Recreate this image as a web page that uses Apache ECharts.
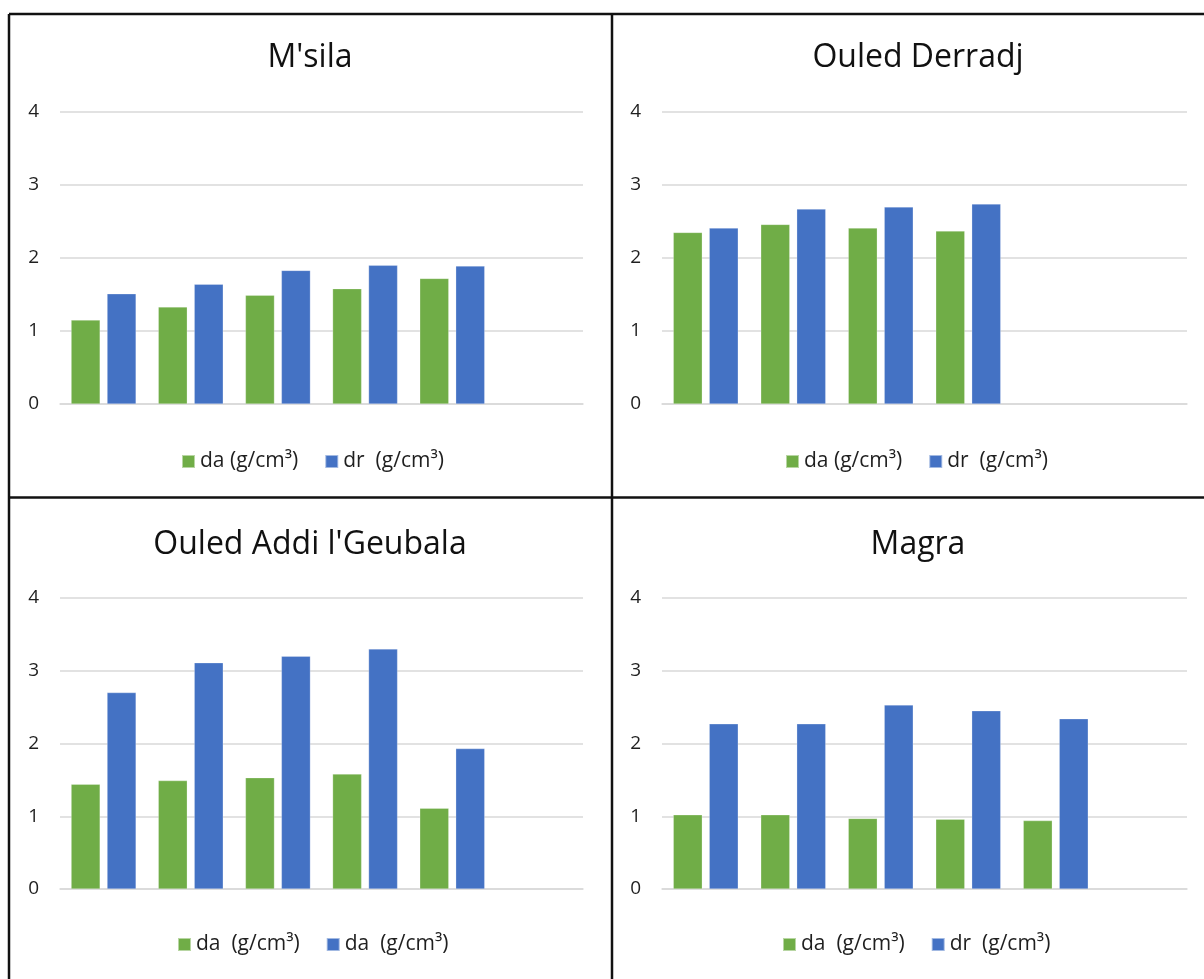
<!DOCTYPE html>
<html>
<head>
<meta charset="utf-8">
<script src="https://cdn.jsdelivr.net/npm/echarts@6/dist/echarts.min.js"></script>
<style>
html,body{margin:0;padding:0;background:#fff;}
#chart{width:1204px;height:979px;}
</style>
</head>
<body>
<div id="chart"></div>
<script>
// ---- data ----
const categories = ['1', '2', '3', '4', '5', '6'];
const panelTitles = ["M'sila", 'Ouled Derradj', "Ouled Addi l'Geubala", 'Magra'];
const yTicks = [0, 1, 2, 3, 4];

const msilaDa = [1.15, 1.33, 1.49, 1.58, 1.72, null];
const msilaDr = [1.51, 1.64, 1.83, 1.90, 1.89, null];
const derradjDa = [2.35, 2.46, 2.41, 2.37, null, null];
const derradjDr = [2.41, 2.67, 2.70, 2.74, null, null];
const addiDa = [1.44, 1.49, 1.53, 1.58, 1.11, null];
const addiDr = [2.70, 3.11, 3.20, 3.30, 1.93, null];
const magraDa = [1.02, 1.02, 0.97, 0.96, 0.94, null];
const magraDr = [2.27, 2.27, 2.53, 2.45, 2.34, null];

const legendLabels1 = ['da (g/cm³)', 'dr  (g/cm³)'];
const legendLabels2 = ['da (g/cm³)', 'dr  (g/cm³)'];
const legendLabels3 = ['da  (g/cm³)', 'da  (g/cm³)'];
const legendLabels4 = ['da  (g/cm³)', 'dr  (g/cm³)'];

// ---- layout ----
const FONT = '"Open Sans", "Noto Sans", sans-serif';
const TEXT = '#1f1f1f';
const GREEN = '#70AD47';
const BLUE = '#4472C4';
const grids = [
  {left: 60, top: 112, width: 523, height: 292},
  {left: 662, top: 112, width: 525, height: 292},
  {left: 60, top: 598, width: 523, height: 291},
  {left: 662, top: 598, width: 525, height: 291}
];
const titleCenters = [[310, 58], [918, 58], [310, 545], [918, 545]];
const legendPos = [[181, 451], [785, 451], [177, 934], [782, 934]];
const seriesPairs = [[msilaDa, msilaDr], [derradjDa, derradjDr], [addiDa, addiDr], [magraDa, magraDr]];
const legendLabelSets = [legendLabels1, legendLabels2, legendLabels3, legendLabels4];

const labelMap = {};
const xAxes = [], yAxes = [], series = [], legends = [];
grids.forEach((g, i) => {
  xAxes.push({
    type: 'category', gridIndex: i, data: categories,
    axisLine: {show: true, lineStyle: {color: '#d9d9d9', width: 1.5}},
    axisTick: {show: false}, axisLabel: {show: false}, splitLine: {show: false}
  });
  yAxes.push({
    type: 'value', gridIndex: i, min: yTicks[0], max: yTicks[yTicks.length - 1], interval: 1,
    axisLine: {show: false}, axisTick: {show: false},
    axisLabel: {color: TEXT, fontSize: 19, fontFamily: FONT, margin: 21},
    splitLine: {lineStyle: {color: '#d9d9d9', width: 1.5}}
  });
  const names = ['s' + i + '_a', 's' + i + '_b'];
  labelMap[names[0]] = legendLabelSets[i][0];
  labelMap[names[1]] = legendLabelSets[i][1];
  [GREEN, BLUE].forEach((c, k) => {
    series.push({
      type: 'bar', name: names[k], xAxisIndex: i, yAxisIndex: i,
      data: seriesPairs[i][k], barWidth: 29, barGap: '24%',
      itemStyle: {color: c, borderColor: 'rgba(255,255,255,0.5)', borderWidth: 0.5},
      emphasis: {disabled: true}
    });
  });
  legends.push({
    data: names, left: legendPos[i][0], top: legendPos[i][1], padding: 0,
    icon: 'rect', itemWidth: 13, itemHeight: 13, itemGap: 26,
    textStyle: {color: TEXT, fontSize: 21, fontFamily: FONT},
    formatter: n => labelMap[n], selectedMode: false
  });
});

const graphics = [];
panelTitles.forEach((t, i) => {
  graphics.push({
    type: 'text', x: titleCenters[i][0], y: titleCenters[i][1],
    style: {text: t, font: '32px ' + FONT, fill: '#111', textAlign: 'center', textVerticalAlign: 'middle'}
  });
});
const lineStyle = {stroke: '#111', lineWidth: 2.5};
graphics.push({type: 'line', shape: {x1: 9, y1: 14, x2: 1204, y2: 14}, style: lineStyle});
graphics.push({type: 'line', shape: {x1: 9, y1: 14, x2: 9, y2: 979}, style: lineStyle});
graphics.push({type: 'line', shape: {x1: 612, y1: 14, x2: 612, y2: 979}, style: lineStyle});
graphics.push({type: 'line', shape: {x1: 9, y1: 497.5, x2: 1204, y2: 497.5}, style: lineStyle});

const chart = echarts.init(document.getElementById('chart'), null, {renderer: 'canvas'});
chart.setOption({
  backgroundColor: '#fff',
  animation: false,
  grid: grids.map(g => Object.assign({containLabel: false}, g)),
  xAxis: xAxes, yAxis: yAxes, series: series, legend: legends,
  graphic: graphics
});
</script>
</body>
</html>
